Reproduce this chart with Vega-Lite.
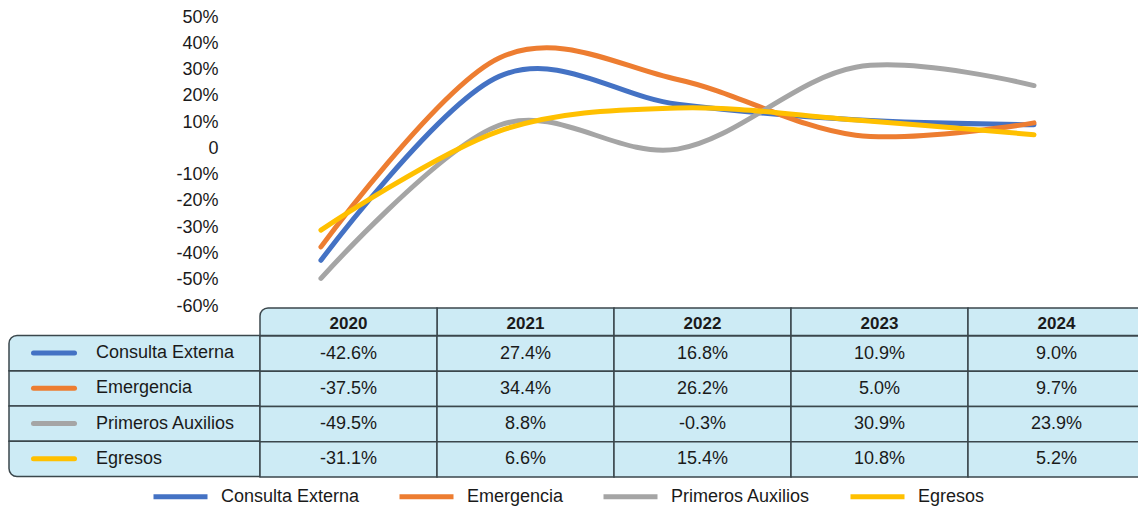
{
  "$schema": "https://vega.github.io/schema/vega-lite/v6.json",
  "padding": {"left": 8, "top": 8, "right": 0, "bottom": 0},
  "bounds": "flush",
  "spacing": 2,
  "datasets": {
    "tabla": [
      {"serie": "Consulta Externa", "anio": "2020", "valor": -0.426},
      {"serie": "Consulta Externa", "anio": "2021", "valor": 0.274},
      {"serie": "Consulta Externa", "anio": "2022", "valor": 0.168},
      {"serie": "Consulta Externa", "anio": "2023", "valor": 0.109},
      {"serie": "Consulta Externa", "anio": "2024", "valor": 0.090},
      {"serie": "Emergencia", "anio": "2020", "valor": -0.375},
      {"serie": "Emergencia", "anio": "2021", "valor": 0.344},
      {"serie": "Emergencia", "anio": "2022", "valor": 0.262},
      {"serie": "Emergencia", "anio": "2023", "valor": 0.050},
      {"serie": "Emergencia", "anio": "2024", "valor": 0.097},
      {"serie": "Primeros Auxilios", "anio": "2020", "valor": -0.495},
      {"serie": "Primeros Auxilios", "anio": "2021", "valor": 0.088},
      {"serie": "Primeros Auxilios", "anio": "2022", "valor": -0.003},
      {"serie": "Primeros Auxilios", "anio": "2023", "valor": 0.309},
      {"serie": "Primeros Auxilios", "anio": "2024", "valor": 0.239},
      {"serie": "Egresos", "anio": "2020", "valor": -0.311},
      {"serie": "Egresos", "anio": "2021", "valor": 0.066},
      {"serie": "Egresos", "anio": "2022", "valor": 0.154},
      {"serie": "Egresos", "anio": "2023", "valor": 0.108},
      {"serie": "Egresos", "anio": "2024", "valor": 0.052}
    ]
  },
  "config": {
    "view": {"stroke": null},
    "font": "Liberation Sans",
    "locale": {"number": {"decimal": ".", "thousands": ",", "grouping": [3], "currency": ["$", ""], "minus": "-"}},
    "text": {"fontSize": 18, "color": "#1a1a1a"}
  },
  "vconcat": [
    {
      "width": 1025,
      "height": 289,
      "data": {"name": "tabla"},
      "mark": {"type": "line", "interpolate": "cardinal", "tension": 0, "strokeWidth": 5, "strokeCap": "round", "strokeJoin": "round"},
      "encoding": {
        "x": {"field": "anio", "type": "ordinal", "scale": {"type": "point", "padding": 0.875, "align": 1}, "axis": null},
        "y": {
          "field": "valor", "type": "quantitative",
          "scale": {"domain": [-0.6, 0.5], "nice": false, "zero": false},
          "axis": {
            "values": [-0.6, -0.5, -0.4, -0.3, -0.2, -0.1, 0, 0.1, 0.2, 0.3, 0.4, 0.5],
            "labelExpr": "datum.value == 0 ? '0' : format(datum.value, '.0%')",
            "domain": false, "ticks": false, "grid": false,
            "labelPadding": 0, "offset": -209,
            "labelFontSize": 18, "labelColor": "#1a1a1a", "labelFont": "Liberation Sans",
            "title": null
          }
        },
        "color": {
          "field": "serie", "type": "nominal",
          "scale": {
            "domain": ["Consulta Externa", "Emergencia", "Primeros Auxilios", "Egresos"],
            "range": ["#4472C4", "#ED7D31", "#A5A5A5", "#FFC000"]
          },
          "legend": {
            "orient": "none", "legendX": 142, "legendY": 450,
            "direction": "horizontal", "title": null,
            "symbolType": "stroke", "symbolSize": 2916, "symbolStrokeWidth": 5,
            "labelFontSize": 18, "labelColor": "#1a1a1a", "labelFont": "Liberation Sans",
            "labelOffset": 11, "columnPadding": 29, "labelLimit": 300
          }
        }
      }
    },
    {
      "bounds": "flush",
      "spacing": 0,
      "hconcat": [
        {
          "width": 251,
          "height": 168.5,
          "data": {"name": "tabla"},
          "transform": [{"filter": "datum.anio == '2020'"}],
          "encoding": {
            "y": {
              "field": "serie", "type": "nominal",
              "scale": {"type": "band", "domain": ["Consulta Externa", "Emergencia", "Primeros Auxilios", "Egresos"], "paddingInner": 0, "paddingOuter": 0.39, "align": 1},
              "axis": null
            }
          },
          "layer": [
            {
              "transform": [{"filter": "datum.serie == 'Emergencia' || datum.serie == 'Primeros Auxilios'"}],
              "mark": {"type": "rect", "fill": "#cdebf5", "stroke": "#3b474c", "strokeWidth": 1.5}
            },
            {
              "transform": [{"filter": "datum.serie == 'Consulta Externa'"}],
              "mark": {"type": "rect", "fill": "#cdebf5", "stroke": "#3b474c", "strokeWidth": 1.5, "cornerRadiusTopLeft": 8}
            },
            {
              "transform": [{"filter": "datum.serie == 'Egresos'"}],
              "mark": {"type": "rect", "fill": "#cdebf5", "stroke": "#3b474c", "strokeWidth": 1.5, "cornerRadiusBottomLeft": 8}
            },
            {
              "mark": {"type": "point", "shape": "stroke", "size": 1681, "strokeWidth": 5, "strokeCap": "round", "opacity": 1},
              "encoding": {
                "x": {"datum": "clave", "type": "nominal", "scale": {"type": "point", "domain": ["clave", "nombre"], "range": [45, 87], "padding": 0}, "axis": null},
                "color": {"field": "serie", "type": "nominal"}
              }
            },
            {
              "mark": {"type": "text", "align": "left", "baseline": "middle", "fontSize": 18},
              "encoding": {
                "x": {"datum": "nombre", "type": "nominal", "axis": null},
                "text": {"field": "serie"}
              }
            }
          ]
        },
        {
          "bounds": "flush",
          "spacing": 0,
          "vconcat": [
            {
              "width": 885,
              "height": 27.5,
              "data": {"name": "tabla"},
              "transform": [{"filter": "datum.serie == 'Consulta Externa'"}],
              "encoding": {
                "x": {"field": "anio", "type": "ordinal", "scale": {"type": "band", "paddingInner": 0, "paddingOuter": 0}, "axis": null}
              },
              "layer": [
                {
                  "transform": [{"filter": "datum.anio != '2020'"}],
                  "mark": {"type": "rect", "fill": "#cdebf5", "stroke": "#3b474c", "strokeWidth": 1.5}
                },
                {
                  "transform": [{"filter": "datum.anio == '2020'"}],
                  "mark": {"type": "rect", "fill": "#cdebf5", "stroke": "#3b474c", "strokeWidth": 1.5, "cornerRadiusTopLeft": 8}
                },
                {
                  "mark": {"type": "text", "fontWeight": "bold", "baseline": "middle", "fontSize": 17, "dy": 2},
                  "encoding": {"text": {"field": "anio"}}
                }
              ]
            },
            {
              "width": 885,
              "height": 141,
              "data": {"name": "tabla"},
              "encoding": {
                "x": {"field": "anio", "type": "ordinal", "scale": {"type": "band", "paddingInner": 0, "paddingOuter": 0}, "axis": null},
                "y": {"field": "serie", "type": "nominal", "scale": {"type": "band", "domain": ["Consulta Externa", "Emergencia", "Primeros Auxilios", "Egresos"], "paddingInner": 0, "paddingOuter": 0}, "axis": null}
              },
              "layer": [
                {
                  "mark": {"type": "rect", "fill": "#cdebf5", "stroke": "#3b474c", "strokeWidth": 1.5}
                },
                {
                  "mark": {"type": "text", "baseline": "middle"},
                  "encoding": {
                    "text": {"field": "valor", "type": "quantitative", "format": ".1%"}
                  }
                }
              ]
            }
          ]
        }
      ]
    }
  ]
}
